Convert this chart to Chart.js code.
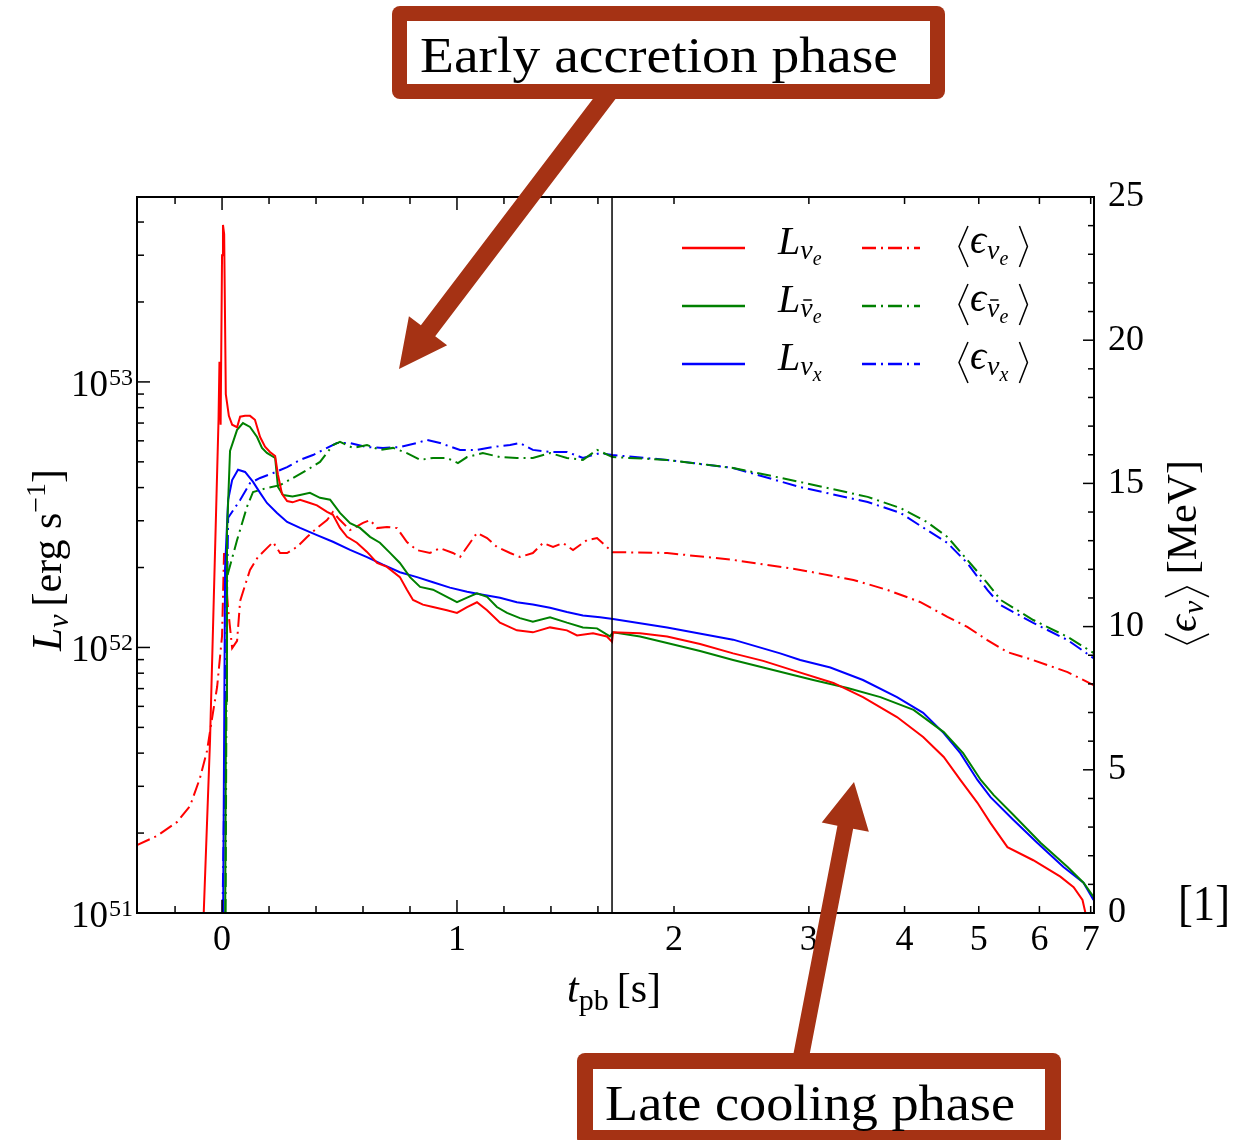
<!DOCTYPE html>
<html>
<head>
<meta charset="utf-8">
<title>Luminosidades e energias médias dos neutrinos</title>
<script src="https://cdn.jsdelivr.net/npm/chart.js@4.4.1/dist/chart.umd.min.js"></script>
<style>
  html, body { margin: 0; padding: 0; background: #fff; }
  #wrap { width: 1239px; height: 1140px; }
</style>
</head>
<body>
<div id="wrap"><canvas id="grafico" width="1239" height="1140"></canvas></div>
<script>
// ===== Dados: [t_pb (s), valor] =====
// luminosidades (erg/s)
const lumNue = [[-0.082, 0.8e51], [-0.051, 4.5e51], [-0.015, 7.2e52], [-0.011, 1.19e53], [-0.006, 6.9e52], [0.0, 3.0e53], [0.004, 3.9e53], [0.009, 3.6e53], [0.016, 9.0e52], [0.029, 7.45e52], [0.043, 6.9e52], [0.064, 6.75e52], [0.077, 7.4e52], [0.098, 7.45e52], [0.119, 7.45e52], [0.14, 7.2e52], [0.162, 6.2e52], [0.183, 5.7e52], [0.204, 5.45e52], [0.226, 5.26e52], [0.238, 4.47e52], [0.255, 3.79e52], [0.277, 3.56e52], [0.30, 3.52e52], [0.332, 3.6e52], [0.374, 3.5e52], [0.404, 3.43e52], [0.447, 3.24e52], [0.472, 3.16e52], [0.502, 2.82e52], [0.532, 2.61e52], [0.574, 2.48e52], [0.617, 2.29e52], [0.66, 2.08e52], [0.702, 2.01e52], [0.757, 1.84e52], [0.787, 1.65e52], [0.813, 1.51e52], [0.855, 1.45e52], [0.898, 1.42e52], [0.957, 1.38e52], [1.0, 1.35e52], [1.043, 1.42e52], [1.085, 1.48e52], [1.128, 1.38e52], [1.183, 1.24e52], [1.255, 1.16e52], [1.323, 1.14e52], [1.396, 1.19e52], [1.468, 1.16e52], [1.511, 1.11e52], [1.579, 1.13e52], [1.638, 1.10e52], [1.66, 1.05e52], [1.665, 1.14e52], [1.806, 1.13e52], [1.959, 1.10e52], [2.163, 1.03e52], [2.389, 9.5e51], [2.615, 8.9e51], [2.862, 8.2e51], [3.23, 7.35e51], [3.53, 6.5e51], [3.91, 5.47e51], [4.23, 4.6e51], [4.50, 3.87e51], [4.73, 3.17e51], [4.98, 2.6e51], [5.18, 2.18e51], [5.45, 1.77e51], [5.89, 1.58e51], [6.39, 1.37e51], [6.65, 1.25e51], [6.83, 1.12e51], [6.89, 1.0e51], [6.93, 0.8e51]];
const lumNuebar = [[0.013, 0.8e51], [0.017, 6.3e51], [0.021, 2.7e52], [0.034, 5.5e52], [0.064, 6.6e52], [0.089, 7.0e52], [0.119, 6.77e52], [0.149, 6.2e52], [0.17, 5.64e52], [0.191, 5.4e52], [0.226, 5.17e52], [0.238, 4.02e52], [0.26, 3.75e52], [0.30, 3.7e52], [0.332, 3.75e52], [0.374, 3.82e52], [0.417, 3.66e52], [0.46, 3.6e52], [0.502, 3.21e52], [0.545, 2.94e52], [0.587, 2.82e52], [0.63, 2.61e52], [0.672, 2.48e52], [0.715, 2.27e52], [0.757, 2.08e52], [0.80, 1.84e52], [0.843, 1.69e52], [0.898, 1.65e52], [0.957, 1.55e52], [1.0, 1.48e52], [1.043, 1.54e52], [1.085, 1.6e52], [1.128, 1.55e52], [1.17, 1.42e52], [1.213, 1.35e52], [1.268, 1.29e52], [1.323, 1.25e52], [1.396, 1.30e52], [1.468, 1.24e52], [1.536, 1.19e52], [1.596, 1.18e52], [1.651, 1.10e52], [1.665, 1.14e52], [1.806, 1.10e52], [1.959, 1.04e52], [2.163, 9.7e51], [2.389, 8.97e51], [2.615, 8.4e51], [2.862, 7.87e51], [3.04, 7.54e51], [3.37, 7.04e51], [3.72, 6.5e51], [4.11, 5.82e51], [4.50, 4.8e51], [4.77, 4.0e51], [5.03, 3.17e51], [5.23, 2.78e51], [5.55, 2.34e51], [6.02, 1.84e51], [6.53, 1.49e51], [6.85, 1.30e51], [7.06, 1.15e51]];
const lumNux = [[0.004, 0.8e51], [0.013, 2.0e52], [0.026, 3.6e52], [0.043, 4.27e52], [0.068, 4.67e52], [0.098, 4.58e52], [0.132, 4.2e52], [0.162, 3.82e52], [0.191, 3.5e52], [0.234, 3.21e52], [0.277, 2.97e52], [0.332, 2.82e52], [0.404, 2.65e52], [0.472, 2.5e52], [0.545, 2.33e52], [0.617, 2.19e52], [0.685, 2.05e52], [0.757, 1.92e52], [0.83, 1.84e52], [0.898, 1.76e52], [0.97, 1.68e52], [1.043, 1.62e52], [1.11, 1.58e52], [1.183, 1.54e52], [1.255, 1.48e52], [1.323, 1.45e52], [1.396, 1.41e52], [1.468, 1.36e52], [1.536, 1.32e52], [1.609, 1.30e52], [1.665, 1.28e52], [1.959, 1.19e52], [2.389, 1.07e52], [2.752, 9.5e51], [2.923, 8.97e51], [3.20, 8.4e51], [3.53, 7.54e51], [3.91, 6.5e51], [4.23, 5.67e51], [4.50, 4.76e51], [4.73, 4.0e51], [4.98, 3.17e51], [5.18, 2.73e51], [5.55, 2.24e51], [5.96, 1.84e51], [6.45, 1.49e51], [6.85, 1.30e51], [7.06, 1.12e51]];

// energias médias (MeV)
const enNue = [[-0.362, 2.37], [-0.277, 2.69], [-0.191, 3.18], [-0.136, 3.74], [-0.094, 4.71], [-0.064, 5.66], [-0.043, 6.77], [-0.021, 7.89], [0.0, 9.67], [0.0085, 12.57], [0.026, 10.6], [0.043, 9.25], [0.064, 9.5], [0.077, 10.9], [0.119, 11.98], [0.153, 12.43], [0.191, 12.74], [0.217, 12.95], [0.247, 12.57], [0.277, 12.57], [0.319, 12.78], [0.362, 13.13], [0.404, 13.44], [0.447, 13.72], [0.472, 14.0], [0.502, 13.72], [0.545, 13.37], [0.60, 13.62], [0.63, 13.72], [0.66, 13.44], [0.702, 13.48], [0.745, 13.44], [0.787, 12.95], [0.83, 12.67], [0.885, 12.57], [0.928, 12.74], [0.983, 12.57], [1.013, 12.43], [1.055, 12.92], [1.085, 13.27], [1.128, 13.09], [1.17, 12.78], [1.226, 12.57], [1.268, 12.43], [1.323, 12.57], [1.366, 12.92], [1.409, 12.78], [1.451, 12.92], [1.494, 12.67], [1.553, 13.02], [1.596, 13.09], [1.638, 12.78], [1.664, 12.6], [1.959, 12.57], [2.389, 12.33], [2.923, 11.98], [3.43, 11.63], [3.80, 11.28], [4.19, 10.86], [4.55, 10.34], [4.83, 9.99], [5.13, 9.53], [5.45, 9.11], [5.89, 8.83], [6.53, 8.41], [7.06, 7.96]];
const enNuebar = [[0.015, 0], [0.021, 11.73], [0.064, 13.02], [0.106, 14.18], [0.132, 14.7], [0.191, 14.84], [0.247, 14.94], [0.302, 15.19], [0.362, 15.47], [0.417, 15.75], [0.472, 16.34], [0.502, 16.45], [0.557, 16.24], [0.617, 16.34], [0.672, 16.17], [0.728, 16.24], [0.787, 16.06], [0.843, 15.82], [0.898, 15.89], [0.957, 15.89], [1.004, 15.71], [1.043, 15.92], [1.11, 16.06], [1.183, 15.92], [1.255, 15.89], [1.323, 15.89], [1.396, 16.06], [1.468, 15.89], [1.536, 15.82], [1.596, 16.17], [1.662, 15.92], [1.959, 15.82], [2.389, 15.54], [2.923, 15.05], [3.58, 14.53], [3.95, 14.14], [4.28, 13.65], [4.55, 13.13], [4.83, 12.33], [5.13, 11.52], [5.34, 10.93], [5.89, 10.23], [6.53, 9.64], [7.06, 9.08]];
const enNux = [[0.002, 0], [0.026, 13.8], [0.077, 14.42], [0.119, 15.01], [0.162, 15.19], [0.217, 15.36], [0.277, 15.57], [0.332, 15.82], [0.387, 15.99], [0.447, 16.24], [0.489, 16.41], [0.545, 16.41], [0.617, 16.27], [0.685, 16.24], [0.757, 16.27], [0.83, 16.41], [0.872, 16.52], [0.928, 16.41], [1.013, 16.17], [1.085, 16.17], [1.153, 16.27], [1.226, 16.34], [1.268, 16.41], [1.323, 16.17], [1.396, 16.1], [1.468, 16.1], [1.536, 15.89], [1.609, 16.06], [1.662, 15.99], [1.959, 15.82], [2.389, 15.54], [2.923, 14.87], [3.58, 14.35], [3.95, 13.97], [4.28, 13.37], [4.55, 12.92], [4.83, 12.22], [5.13, 11.28], [5.34, 10.75], [5.89, 10.13], [6.53, 9.53], [7.06, 8.9]];

// ===== Eixos =====
const xTicks = [-0.2, 0, 0.2, 0.4, 0.6, 0.8, 1, 1.2, 1.4, 1.6, 2, 3, 4, 5, 6, 7];
const lumTicks = [1e51, 1e52, 1e53];
const lumExpoentes = ['51', '52', '53'];
const T_QUEBRA = 1.66;   // linear antes, logarítmico depois
const DECADA = 3.26;     // largura de uma década em "segundos lineares"

const SERIF = '"Liberation Serif", "DejaVu Serif", serif';
const fonte = (estilo, px) => `${estilo} ${px}px ${SERIF}`;
const cores = { nue: '#ff0000', nuebar: '#008000', nux: '#0000ff' };
const MARROM = '#a53214';
const TRACO = [14, 5, 2, 5];

// escala de tempo: linear até T_QUEBRA, log depois
class EscalaTempo extends Chart.LinearScale {
  static id = 'tempoquebrado';
  static defaults = {};
  deformar(v) { return v <= T_QUEBRA ? v : T_QUEBRA + DECADA * Math.log10(v / T_QUEBRA); }
  restaurar(u) { return u <= T_QUEBRA ? u : T_QUEBRA * Math.pow(10, (u - T_QUEBRA) / DECADA); }
  buildTicks() { return xTicks.map(value => ({ value })); }
  getPixelForValue(v) {
    const a = this.deformar(this.min), b = this.deformar(this.max);
    return this.getPixelForDecimal((this.deformar(v) - a) / (b - a));
  }
  getValueForPixel(p) {
    const a = this.deformar(this.min), b = this.deformar(this.max);
    return this.restaurar(a + this.getDecimalForPixel(p) * (b - a));
  }
}
Chart.register(EscalaTempo);

// ===== Texto composto (sub/sobrescritos) =====
function larguraParte(ctx, p) {
  if (p.ang) return p.w;
  ctx.font = p.f;
  return ctx.measureText(p.t).width + (p.gap || 0);
}
function larguraTotal(ctx, partes) {
  return partes.reduce((s, p) => s + larguraParte(ctx, p), 0);
}
function desenharPartes(ctx, partes, x, y) {
  let cx = x;
  partes.forEach(p => {
    const w = larguraParte(ctx, p);
    if (p.ang) {
      const topo = y + p.y0, base = y + p.y1, meio = (topo + base) / 2;
      ctx.beginPath();
      if (p.ang === '<') { ctx.moveTo(cx + w - 2, topo); ctx.lineTo(cx + 2, meio); ctx.lineTo(cx + w - 2, base); }
      else { ctx.moveTo(cx + 2, topo); ctx.lineTo(cx + w - 2, meio); ctx.lineTo(cx + 2, base); }
      ctx.lineWidth = 1.5;
      ctx.stroke();
    } else {
      ctx.font = p.f;
      ctx.fillText(p.t, cx, y + (p.dy || 0));
      if (p.barra) {
        ctx.beginPath();
        ctx.moveTo(cx + 3, y + (p.dy || 0) - 17);
        ctx.lineTo(cx + w - 1, y + (p.dy || 0) - 17);
        ctx.lineWidth = 1.5;
        ctx.stroke();
      }
    }
    cx += w;
  });
}
function textoAjustado(ctx, txt, x, y, largura, f) {
  ctx.font = f;
  const m = ctx.measureText(txt).width;
  ctx.save();
  ctx.translate(x, y);
  ctx.scale(largura / m, 1);
  ctx.fillText(txt, 0, 0);
  ctx.restore();
}
function seta(ctx, x0, y0, x1, y1, haste, cabeca, abertura) {
  const dx = x1 - x0, dy = y1 - y0, len = Math.hypot(dx, dy);
  const ux = dx / len, uy = dy / len, px = -uy, py = ux;
  const bx = x1 - ux * cabeca, by = y1 - uy * cabeca;
  ctx.beginPath();
  ctx.moveTo(x0 + px * haste / 2, y0 + py * haste / 2);
  ctx.lineTo(bx + px * haste / 2, by + py * haste / 2);
  ctx.lineTo(bx + px * abertura / 2, by + py * abertura / 2);
  ctx.lineTo(x1, y1);
  ctx.lineTo(bx - px * abertura / 2, by - py * abertura / 2);
  ctx.lineTo(bx - px * haste / 2, by - py * haste / 2);
  ctx.lineTo(x0 - px * haste / 2, y0 - py * haste / 2);
  ctx.closePath();
  ctx.fill();
}
function caixa(ctx, x0, y0, x1, y1, borda) {
  ctx.fillStyle = MARROM;
  ctx.beginPath();
  ctx.roundRect(x0, y0, x1 - x0, y1 - y0, 8);
  ctx.fill();
  ctx.fillStyle = '#fff';
  ctx.fillRect(x0 + borda, y0 + borda, x1 - x0 - 2 * borda, y1 - y0 - 2 * borda);
}

const I = px => fonte('italic', px);
const R = px => fonte('normal', px);
const partesLum = (sub, barra) => [
  { t: 'L', f: I(40) }, { t: 'ν', f: I(28), dy: 5, barra }, { t: sub, f: I(20), dy: 11 }
];
const partesEn = (sub, barra) => [
  { ang: '<', w: 13, y0: -27, y1: 14 }, { t: 'ϵ', f: I(40), gap: 1 },
  { t: 'ν', f: I(28), dy: 6, barra }, { t: sub, f: I(20), dy: 12, gap: 9 },
  { ang: '>', w: 12, y0: -27, y1: 14 }
];

// ===== Plugin: moldura, marcas, rótulos, legenda e anotações =====
const moldura = {
  id: 'moldura',
  afterDraw(chart) {
    const { ctx, chartArea: a, scales: { x, y, y2 } } = chart;
    ctx.save();
    ctx.strokeStyle = '#000';
    ctx.fillStyle = '#000';
    ctx.lineWidth = 1.5;
    const linha = (x0, y0, x1, y1) => { ctx.beginPath(); ctx.moveTo(x0, y0); ctx.lineTo(x1, y1); ctx.stroke(); };

    // linha vertical de separação
    const sx = x.getPixelForValue(T_QUEBRA);
    linha(sx, a.top, sx, a.bottom);

    // marcas do eixo x (embaixo e em cima)
    xTicks.forEach(v => {
      const px = x.getPixelForValue(v);
      const len = (Number.isInteger(v) && v <= 1) ? 13 : 7;
      linha(px, a.bottom, px, a.bottom - len);
      linha(px, a.top, px, a.top + len);
    });
    // marcas log (esquerda)
    for (let d = 51; d <= 53; d++) {
      for (let m = 1; m <= 9; m++) {
        const v = m * Math.pow(10, d);
        if (v > y.max) continue;
        const py = y.getPixelForValue(v);
        linha(a.left, py, a.left + (m === 1 ? 13 : 7), py);
      }
    }
    // marcas da energia (direita)
    for (let e = 0; e <= 25; e++) {
      const py = y2.getPixelForValue(e);
      linha(a.right, py, a.right - (e % 5 === 0 ? 11 : 6), py);
    }
    ctx.lineWidth = 2;
    ctx.strokeRect(a.left, a.top, a.right - a.left, a.bottom - a.top);

    // rótulos 10^n
    ctx.textBaseline = 'alphabetic';
    ctx.textAlign = 'left';
    lumTicks.forEach((v, i) => {
      const py = y.getPixelForValue(v);
      ctx.font = R(24);
      const ws = ctx.measureText(lumExpoentes[i]).width;
      ctx.font = R(37);
      const wb = ctx.measureText('10').width;
      const x0 = a.left - 5 - ws - wb;
      ctx.fillText('10', x0, py + 14);
      ctx.font = R(24);
      ctx.fillText(lumExpoentes[i], x0 + wb + 1, py + 3);
    });

    // títulos dos eixos
    const tituloX = [{ t: 't', f: I(42) }, { t: 'pb', f: R(30), dy: 8, gap: 8 }, { t: '[s]', f: R(42) }];
    desenharPartes(ctx, tituloX, 614 - larguraTotal(ctx, tituloX) / 2, 1002);

    const tituloY = [{ t: 'L', f: I(42) }, { t: 'ν', f: I(30), dy: 7, gap: 8 }, { t: '[erg s', f: R(42) },
      { t: '−1', f: R(28), dy: -16 }, { t: ']', f: R(42) }];
    ctx.save();
    ctx.translate(61, 560);
    ctx.rotate(-Math.PI / 2);
    desenharPartes(ctx, tituloY, -larguraTotal(ctx, tituloY) / 2, 0);
    ctx.restore();

    const tituloY2 = [{ ang: '<', w: 14, y0: -31, y1: 13 }, { t: 'ϵ', f: I(42), gap: 1 },
      { t: 'ν', f: I(30), dy: 7, gap: 2 }, { ang: '>', w: 14, y0: -31, y1: 13 }, { t: ' [MeV]', f: R(42) }];
    ctx.save();
    ctx.translate(1196, 553);
    ctx.rotate(-Math.PI / 2);
    desenharPartes(ctx, tituloY2, -larguraTotal(ctx, tituloY2) / 2, 0);
    ctx.restore();

    // legenda em duas colunas
    const linhas = [
      { cor: cores.nue, sub: 'e', barra: false, y: 248 },
      { cor: cores.nuebar, sub: 'e', barra: true, y: 306 },
      { cor: cores.nux, sub: 'x', barra: false, y: 364 }
    ];
    linhas.forEach(l => {
      ctx.strokeStyle = l.cor;
      ctx.lineWidth = 2.5;
      ctx.setLineDash([]);
      linha(682, l.y, 745, l.y);
      ctx.setLineDash(TRACO);
      linha(862, l.y, 920, l.y);
      ctx.setLineDash([]);
      ctx.strokeStyle = '#000';
      ctx.fillStyle = '#000';
      desenharPartes(ctx, partesLum(l.sub, l.barra), 778, l.y + 6);
      desenharPartes(ctx, partesEn(l.sub, l.barra), 957, l.y + 5);
    });

    // "[1]"
    textoAjustado(ctx, '[1]', 1178, 920, 52, R(50));

    // anotações
    ctx.fillStyle = MARROM;
    seta(ctx, 611, 90, 399, 369, 18, 48, 48);
    seta(ctx, 800, 1062, 854, 782, 16, 46, 48);
    caixa(ctx, 392, 6, 945, 99, 15);
    caixa(ctx, 577, 1053, 1061, 1146, 16);
    ctx.fillStyle = '#000';
    textoAjustado(ctx, 'Early accretion phase', 420, 72, 478, R(50));
    textoAjustado(ctx, 'Late cooling phase', 605, 1120, 410, R(50));
    ctx.restore();
  }
};

// ===== Gráfico =====
const pontos = arr => arr.map(([x, y]) => ({ x, y }));
const serie = (label, dados, cor, eixo, traco) => ({
  label, data: pontos(dados), borderColor: cor, backgroundColor: cor,
  borderWidth: 2, pointRadius: 0, tension: 0, fill: false,
  yAxisID: eixo, borderDash: traco || []
});

new Chart(document.getElementById('grafico'), {
  type: 'line',
  data: {
    datasets: [
      serie('L_nue', lumNue, cores.nue, 'y'),
      serie('L_nuebar', lumNuebar, cores.nuebar, 'y'),
      serie('L_nux', lumNux, cores.nux, 'y'),
      serie('<e_nue>', enNue, cores.nue, 'y2', TRACO),
      serie('<e_nuebar>', enNuebar, cores.nuebar, 'y2', TRACO),
      serie('<e_nux>', enNux, cores.nux, 'y2', TRACO)
    ]
  },
  options: {
    responsive: false,
    animation: false,
    devicePixelRatio: 1,
    layout: { padding: { top: 197, left: 0, right: 0, bottom: 0 } },
    plugins: { legend: { display: false }, tooltip: { enabled: false } },
    scales: {
      x: {
        type: 'tempoquebrado', min: -0.362, max: 7.07,
        grid: { display: false, drawTicks: false }, border: { display: false },
        ticks: {
          autoSkip: false, maxRotation: 0, padding: 6, color: '#000',
          font: { family: SERIF, size: 36 },
          callback: v => Number.isInteger(v) ? String(v) : ''
        },
        afterFit: s => { s.height = 227; }
      },
      y: {
        type: 'logarithmic', position: 'left', min: 1e51, max: 4.97e53,
        grid: { display: false, drawTicks: false }, border: { display: false },
        ticks: { display: false },
        afterFit: s => { s.width = 137; }
      },
      y2: {
        type: 'linear', position: 'right', min: 0, max: 25,
        grid: { display: false, drawTicks: false }, border: { display: false },
        ticks: { stepSize: 5, padding: 14, color: '#000', font: { family: SERIF, size: 36 } },
        afterFit: s => { s.width = 145; }
      }
    }
  },
  plugins: [moldura]
});
</script>
</body>
</html>
